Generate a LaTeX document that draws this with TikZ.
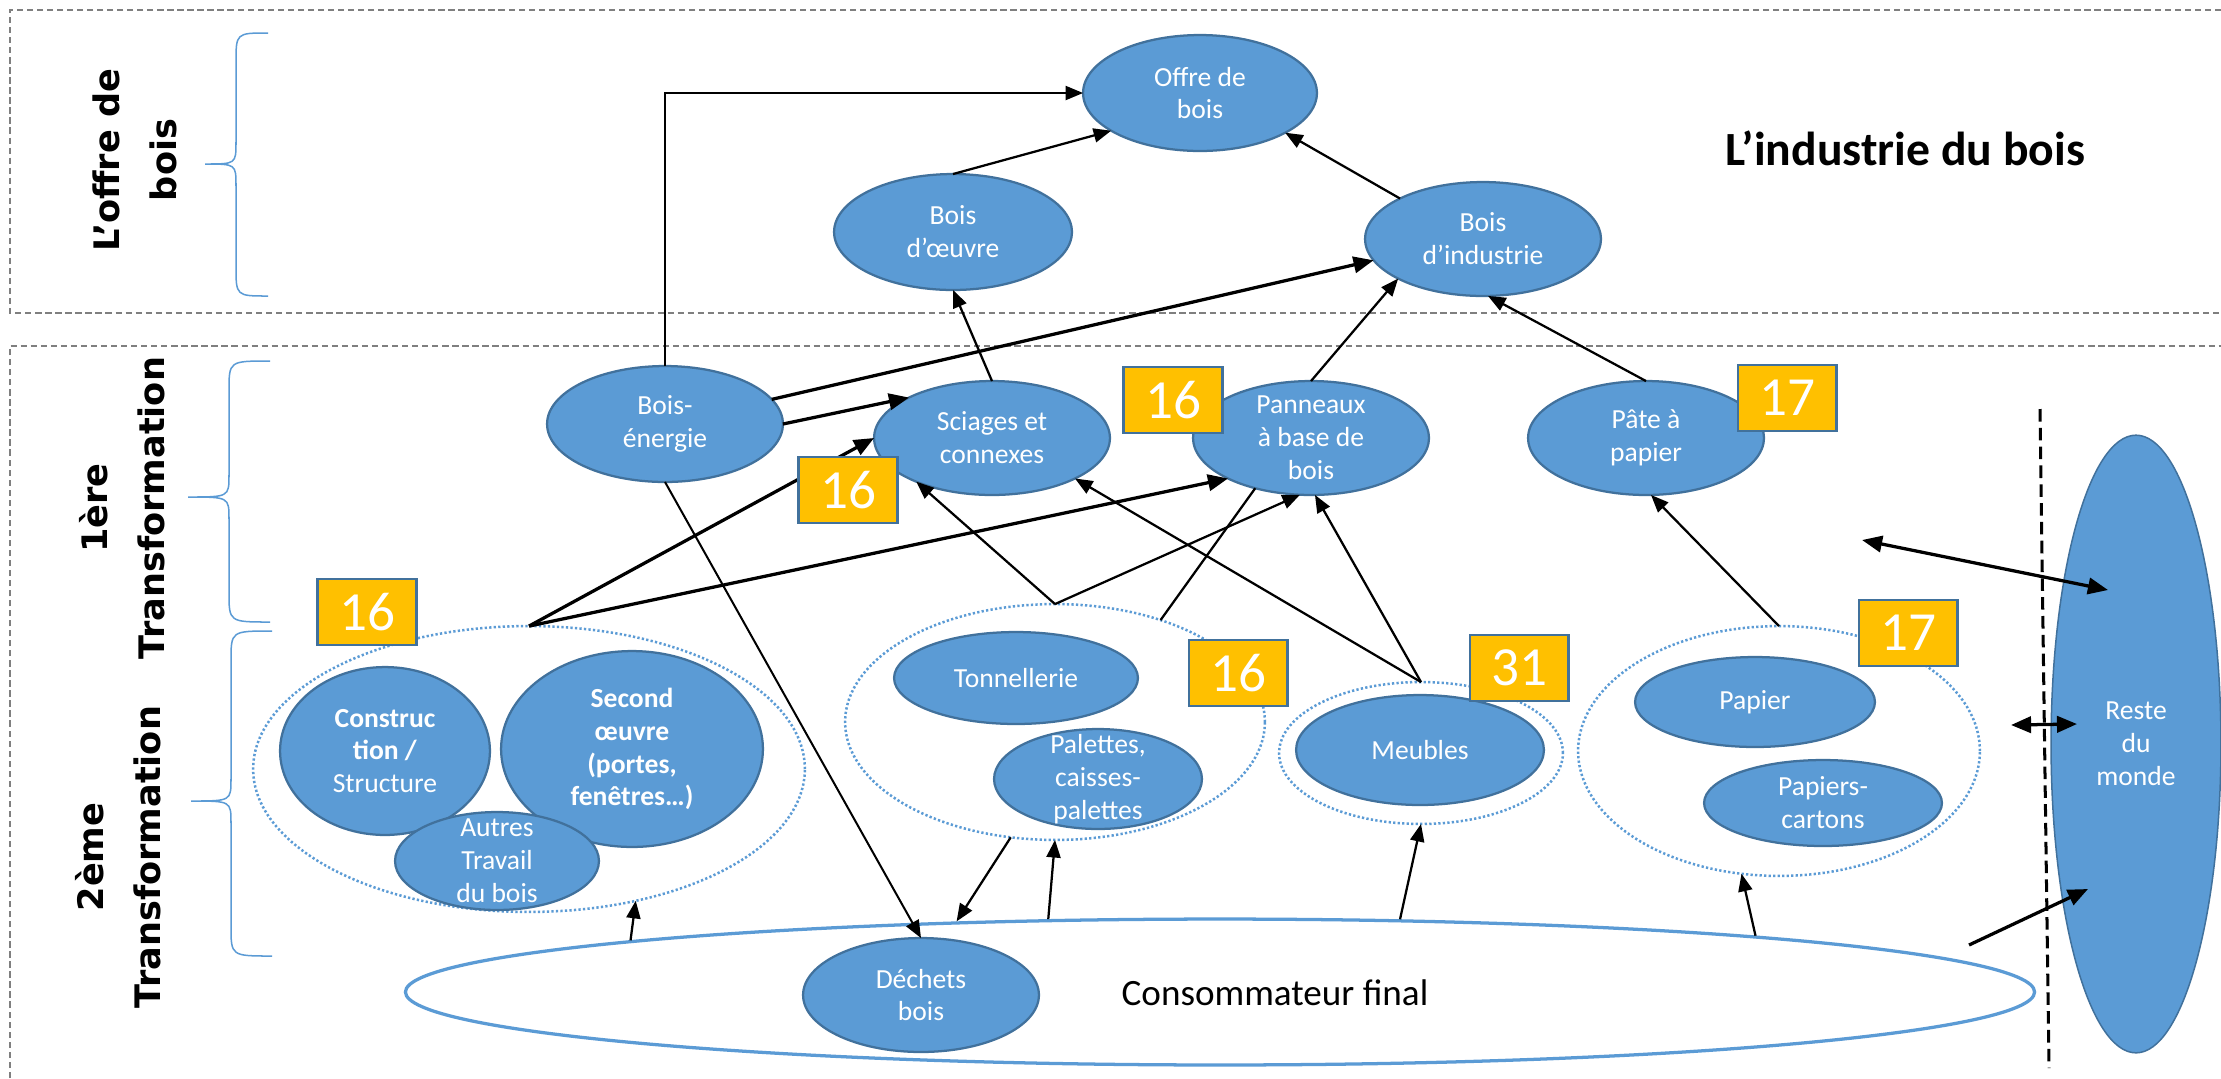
\documentclass[tikz,border=0pt]{standalone}
\usepackage{fontspec}
\setmainfont{Carlito}
\newfontfamily\sidefont{DejaVu Sans}
\usetikzlibrary{shapes.geometric, arrows.meta}

\definecolor{wood}{HTML}{5B9BD5}
\definecolor{woodline}{HTML}{41719C}
\definecolor{gold}{HTML}{FFC000}
\definecolor{zonegray}{HTML}{7F7F7F}

\tikzset{
  blob/.style={ellipse, fill=wood, draw=woodline, line width=0.9pt, inner sep=0pt, outer sep=0pt},
  radii/.style 2 args={minimum width=#1*0.028cm, minimum height=#2*0.028cm},
  blobtext/.style={text=white, align=center, inner sep=0pt, font=\fontsize{11}{13.1}\selectfont},
  says/.style={label={[blobtext]center:{#1}}},
  cluster/.style={ellipse, draw=wood, line width=1pt, dash pattern=on 0.9pt off 0.9pt, inner sep=0pt, outer sep=0pt},
  numbox/.style={draw=woodline, fill=gold, line width=1pt, text=white, minimum width=1.38cm, minimum height=0.92cm, inner sep=0pt, font=\fontsize{22}{24}\selectfont},
  link/.style={line width=0.9pt, -{Triangle[length=7pt, width=5.6pt]}},
  boldlink/.style={line width=1.3pt, -{Triangle[length=8pt, width=6.5pt]}},
  tradelink/.style={line width=1.3pt, {Triangle[length=8pt, width=6.5pt]}-{Triangle[length=8pt, width=6.5pt]}},
  zonebox/.style={draw=zonegray, line width=0.8pt, dash pattern=on 2.5pt off 1.5pt},
  bracebar/.style={draw=wood, line width=0.6pt},
  sidelabel/.style={rotate=90, align=center, font=\sidefont\bfseries\fontsize{14}{22.7}\selectfont},
}

\newcommand{\sidebrace}[6]{%
  \draw[bracebar] (#1,#4) .. controls (#2,#4) .. (#2,{#4+30}) -- (#2,{#5-22})
    .. controls (#2,#5) .. (#3,#5) .. controls (#2,#5) .. (#2,{#5+22})
    -- (#2,{#6-30}) .. controls (#2,#6) .. (#1,#6);}

\begin{document}
\begin{tikzpicture}[x=0.014cm, y=-0.014cm]
  \fill[white] (0,0) rectangle (2221,1078);
  \useasboundingbox (0,0) rectangle (2221,1078);

  \draw[zonebox] (2221,10) -| (10,313) -- (2221,313);
  \draw[zonebox] (10,1078) |- (2221,346);

  \sidebrace{268}{236}{205}{33}{164}{296}
  \sidebrace{270}{229}{188}{361}{497}{622}
  \sidebrace{272}{231}{191}{631}{801}{956}

  \node[sidelabel] (offrelabel) at (135,160) {L’offre de\\bois};
  \node[sidelabel] (premiere) at (122,508) {1ère\\Transformation};
  \node[sidelabel] (deuxieme) at (118,857) {2ème\\Transformation};
  \node[font=\bfseries\fontsize{19}{22}\selectfont, anchor=base] (titre) at (1905,165) {L’industrie du bois};

  \node[blob, radii={117}{58}, says={Offre de\\bois}] (offre) at (1200,93) {};
  \node[blob, radii={119}{58}, says={Bois\\d’œuvre}] (oeuvre) at (953,232) {};
  \node[blob, radii={118}{57}, says={Bois\\d’industrie}] (industrie) at (1483,239) {};

  \node[blob, radii={118}{58}, says={Bois-\\énergie}] (energie) at (665,424) {};
  \node[blob, radii={118}{57}, says={Sciages et\\connexes}] (sciages) at (992,438) {};
  \node[blob, radii={118}{57}, says={Panneaux\\à base de\\bois}] (panneaux) at (1311,438) {};
  \node[blob, radii={118}{57}, says={Pâte à\\papier}] (pate) at (1646,438) {};

  \node[cluster, radii={276}{143}] (grpbois) at (529,769) {};
  \node[cluster, radii={210}{118}] (grpmid) at (1055,722) {};
  \node[cluster, radii={142}{71}] (grpmeub) at (1421,753) {};
  \node[cluster, radii={201}{125}] (grppap) at (1779,751) {};

  \node[blob, radii={105}{84}, says={\textbf{Construc}\\\textbf{tion /}\\Structure}] (construction) at (385,751) {};
  \node[blob, radii={131}{98}, says={\textbf{Second}\\\textbf{œuvre}\\\textbf{(portes,}\\\textbf{fenêtres…)}}] (second) at (632,749) {};
  \node[blob, radii={102}{49}, says={Autres\\Travail\\du bois}] (autres) at (497,861) {};
  \node[blob, radii={122}{46}, says={Tonnellerie}] (tonnellerie) at (1016,678) {};
  \node[blob, radii={104}{50}, says={Palettes,\\caisses-\\palettes}] (palettes) at (1098,779) {};
  \node[blob, radii={124}{55}, says={Meubles}] (meubles) at (1420,750) {};
  \node[blob, radii={120}{45}, says={Papier}] (papier) at (1755,702) {};
  \node[blob, radii={119}{43}, says={Papiers-\\cartons}] (cartons) at (1823,803) {};

  \node[ellipse, draw=wood, line width=1.3pt, radii={815}{73}, inner sep=0pt] (conso) at (1220,992) {};
  \node[font=\fontsize{14.8}{17}\selectfont] (consotext) at (1275,993) {Consommateur final};
  \node[blob, radii={118}{57}, says={Déchets\\bois}] (dechets) at (921,995) {};

  \draw[link] (energie.north) |- (offre.west);
  \draw[link] (oeuvre.north) -- (offre.203);
  \draw[link] (industrie.154) -- (offre.335);
  \draw[link] (sciages.north) -- (oeuvre.south);
  \draw[boldlink] (energie.13) -- (industrie.191);
  \draw[boldlink] (energie.east) -- (sciages.154);
  \draw[link] (panneaux.north) -- (industrie.205);
  \draw[link] (pate.north) -- (industrie.275);
  \draw[link, line width=0.8pt] (energie.south) -- (dechets.north);
  \draw[boldlink] (grpbois.north) -- (sciages.west);
  \draw[boldlink] (grpbois.north) -- (panneaux.206);
  \draw[link] (grpmid.north) -- (sciages.210);
  \draw[link] (grpmid.north) -- (panneaux.259);
  \draw[line width=0.9pt] (grpmid.44) -- (panneaux.222);
  \draw[link] (grpmeub.north) -- (sciages.334);
  \draw[link] (grpmeub.north) -- (panneaux.274);
  \draw[link] (grppap.north) -- (pate.275);
  \draw[link] (conso.175) -- (grpbois.309);
  \draw[link] (grpmid.249) -- (conso.165);
  \draw[link] (conso.157) -- (grpmid.south);
  \draw[link] (conso.22) -- (grpmeub.south);
  \draw[link] (conso.6) -- (grppap.253);

  \draw[line width=1.2pt, dash pattern=on 5pt off 2.5pt] (2040,409) -- (2049,1068);
  \node[blob, line width=0.6pt, radii={85}{309}, says={Reste\\du\\monde}] (reste) at (2136,744) {};

  \coordinate (tradeA) at (1862,540);
  \coordinate (tradeB) at (2108,590);
  \coordinate (tradeC) at (2011,725);
  \coordinate (tradeD) at (2077,724);
  \coordinate (exportA) at (1969,945);
  \coordinate (exportB) at (2088,889);
  \draw[tradelink] (tradeA) -- (tradeB);
  \draw[tradelink] (tradeC) -- (tradeD);
  \draw[boldlink] (exportA) -- (exportB);

  \node[numbox] (tagA) at (367,612) {16};
  \node[numbox] (tagB) at (848,490) {16};
  \node[numbox] (tagC) at (1173,400) {16};
  \node[numbox] (tagD) at (1787,398) {17};
  \node[numbox] (tagE) at (1238,673) {16};
  \node[numbox] (tagF) at (1519,668) {31};
  \node[numbox] (tagG) at (1908,633) {17};
\end{tikzpicture}
\end{document}
